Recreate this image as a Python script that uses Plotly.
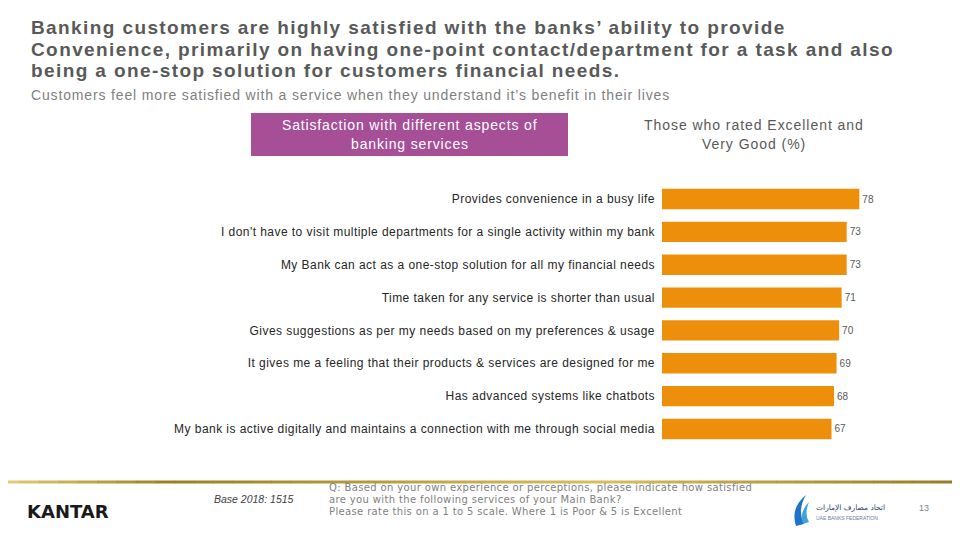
import plotly.graph_objects as go

categories = [
    "Provides convenience in a busy life",
    "I don't have to visit multiple departments for a single activity within my bank",
    "My Bank can act as a one-stop solution for all my financial needs",
    "Time taken for any service is shorter than usual",
    "Gives suggestions as per my needs based on my preferences & usage",
    "It gives me a feeling that their products & services are designed for me",
    "Has advanced systems like chatbots",
    "My bank is active digitally and maintains a connection with me through social media",
]
values = [78, 73, 73, 71, 70, 69, 68, 67]

title_lines = [
    "Banking customers are highly satisfied with the banks\u2019 ability to provide",
    "Convenience, primarily on having one-point contact/department for a task and also",
    "being a one-stop solution for customers financial needs.",
]
subtitle = "Customers feel more satisfied with a service when they understand it\u2019s benefit in their lives"
box_lines = ["Satisfaction with different aspects of", "banking services"]
header_lines = ["Those who rated Excellent and", "Very Good (%)"]
question_lines = [
    "Q: Based on your own experience or perceptions, please indicate how satisfied",
    "are you with the following services of your Main Bank?",
    "Please rate this on a 1 to 5 scale. Where 1 is Poor & 5 is Excellent",
]
base_text = "Base 2018: 1515"
page_no = "13"

W, H = 960, 540
OFF = 8  # page body margin of the HTML page


def px(x):
    return (x - OFF) / W


def py(y):
    return 1 - (y - OFF) / H


def ls(text, sp):
    return '<span style="letter-spacing:%.2fpx">%s</span>' % (sp, text)


FONT = "Liberation Sans, Arial, sans-serif"

fig = go.Figure()
fig.add_trace(go.Bar(
    x=values,
    y=categories,
    orientation="h",
    marker=dict(color="#EE8F0C", line=dict(width=0)),
    width=0.62,
    text=[str(v) for v in values],
    textposition="outside",
    cliponaxis=False,
    textfont=dict(family=FONT, size=10, color="#595959"),
    hoverinfo="skip",
))

fig.update_layout(
    width=W, height=H,
    margin=dict(l=0, r=0, t=0, b=0),
    paper_bgcolor="white", plot_bgcolor="white",
    showlegend=False,
    xaxis=dict(domain=[px(662), px(915)], range=[0, 100], visible=False, fixedrange=True),
    yaxis=dict(
        domain=[py(445.4), py(182.6)],
        categoryorder="array", categoryarray=categories[::-1],
        tickmode="array", tickvals=categories, ticktext=[ls(c, 0.45) for c in categories],
        showgrid=False, zeroline=False, showline=False, ticks="",
        ticklabelstandoff=6,
        tickfont=dict(family=FONT, size=12, color="#262626"),
        fixedrange=True,
    ),
    bargap=0.38,
)

ann = []
for i, line in enumerate(title_lines):
    ann.append(dict(text="<b>" + ls(line, 1.4) + "</b>", x=px(29), y=py(28 + 21 * i), xanchor="left", yanchor="middle",
                    font=dict(family=FONT, size=19, color="#595959")))
ann.append(dict(text=ls(subtitle, 0.85), x=px(29), y=py(95), xanchor="left", yanchor="middle",
                font=dict(family=FONT, size=14, color="#7F7F7F")))
for i, line in enumerate(box_lines):
    ann.append(dict(text=ls(line, 0.85), x=px(409.5), y=py(125 + 19 * i), xanchor="center", yanchor="middle",
                    font=dict(family=FONT, size=14, color="white")))
for i, line in enumerate(header_lines):
    ann.append(dict(text=ls(line, 0.95), x=px(754), y=py(125 + 19 * i), xanchor="center", yanchor="middle",
                    font=dict(family=FONT, size=14, color="#595959")))
for i, line in enumerate(question_lines):
    ann.append(dict(text=ls(line, 0.36), x=px(327), y=py(487 + 12 * i), xanchor="left", yanchor="middle",
                    font=dict(family="DejaVu Sans, sans-serif", size=10, color="#7F7F7F")))
ann.append(dict(text="<i>" + base_text + "</i>", x=px(212), y=py(499), xanchor="left", yanchor="middle",
                font=dict(family=FONT, size=10.5, color="#404040")))
ann.append(dict(text="<b>KANTAR</b>", x=px(25), y=py(511), xanchor="left", yanchor="middle",
                font=dict(family="DejaVu Sans, sans-serif", size=18, color="#1A1A1A")))
ann.append(dict(text=page_no, x=px(924), y=py(508), xanchor="center", yanchor="middle",
                font=dict(family=FONT, size=9, color="#7F7F7F")))
ann.append(dict(text="\u0627\u062a\u062d\u0627\u062f \u0645\u0635\u0627\u0631\u0641 \u0627\u0644\u0625\u0645\u0627\u0631\u0627\u062a", x=px(814), y=py(507),
                xanchor="left", yanchor="middle",
                font=dict(family="DejaVu Sans, sans-serif", size=7.5, color="#2B3E78")))
ann.append(dict(text="UAE BANKS FEDERATION", x=px(814), y=py(518), xanchor="left", yanchor="middle",
                font=dict(family=FONT, size=5, color="#6A7A9A")))
for a in ann:
    a.update(xref="paper", yref="paper", showarrow=False)
fig.update_layout(annotations=ann)

shapes = [
    dict(type="rect", xref="paper", yref="paper", x0=px(251), x1=px(568), y0=py(156), y1=py(113),
         fillcolor="#A64F97", line=dict(width=0), layer="below"),
]

# gold gradient footer line
stops = [(0, (230, 207, 120)), (170, (158, 125, 34)), (600, (217, 190, 96)), (970, (152, 119, 34))]
nseg = 50
for k in range(nseg):
    x0 = 970 * k / nseg
    x1 = 970 * (k + 1) / nseg
    xm = (x0 + x1) / 2
    for j in range(len(stops) - 1):
        if stops[j][0] <= xm <= stops[j + 1][0]:
            t = (xm - stops[j][0]) / (stops[j + 1][0] - stops[j][0])
            c = tuple(int(stops[j][1][m] + t * (stops[j + 1][1][m] - stops[j][1][m])) for m in range(3))
            break
    shapes.append(dict(type="line", xref="paper", yref="paper", x0=px(x0), x1=px(x1 + 0.5), y0=py(482), y1=py(482),
                       line=dict(color="rgb(%d,%d,%d)" % c, width=3)))

# small federation logo mark
shapes.append(dict(type="path", xref="paper", yref="paper",
                   path="M %f %f Q %f %f %f %f L %f %f Q %f %f %f %f Z" % (
                       px(806), py(495), px(790), py(508), px(796), py(526),
                       px(804), py(524), px(797), py(510), px(806), py(495)),
                   fillcolor="#1E73C8", line=dict(width=0)))
shapes.append(dict(type="path", xref="paper", yref="paper",
                   path="M %f %f Q %f %f %f %f L %f %f Q %f %f %f %f Z" % (
                       px(809), py(502), px(799), py(512), px(803), py(524),
                       px(809), py(522), px(804), py(514), px(809), py(502)),
                   fillcolor="#3FA0DC", line=dict(width=0)))
fig.update_layout(shapes=shapes)

fig.write_html("out.html")
